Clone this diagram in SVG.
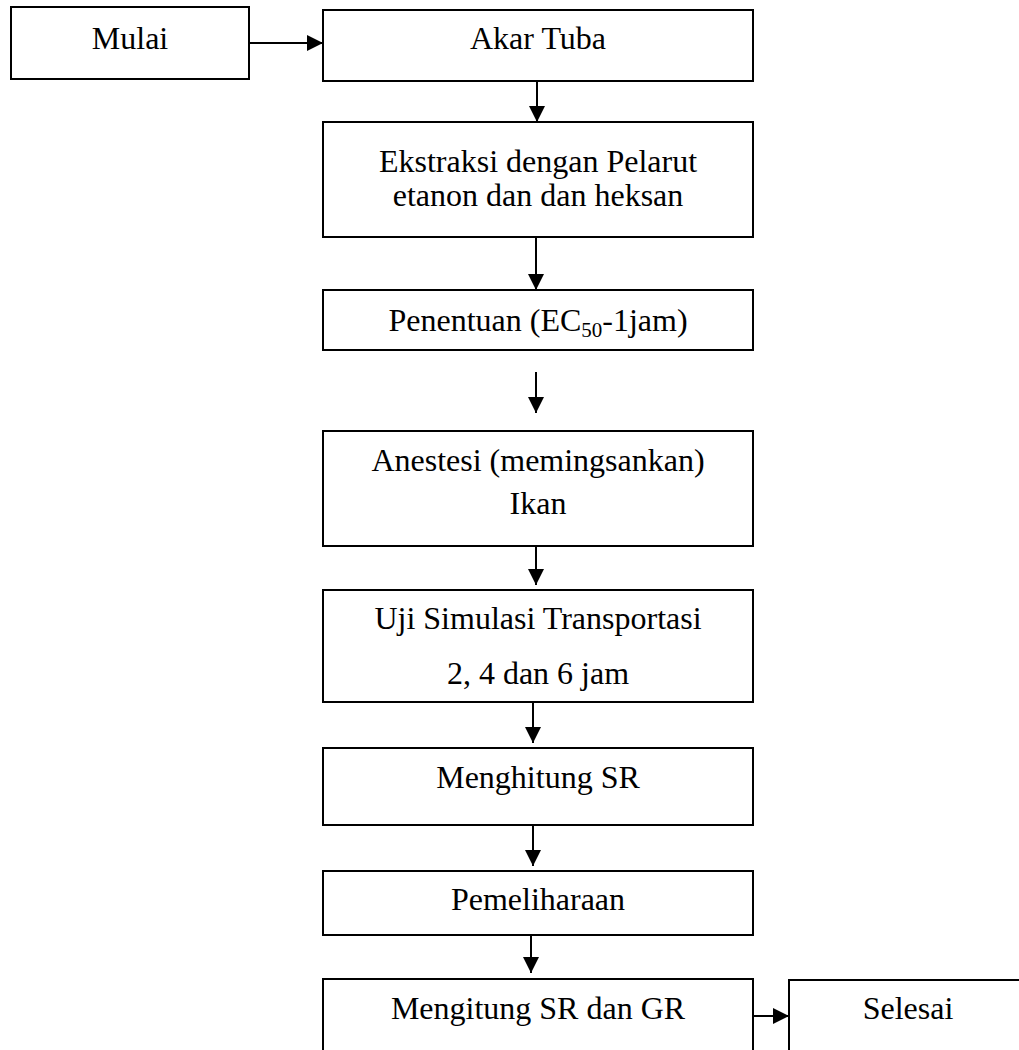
<svg xmlns="http://www.w3.org/2000/svg" width="1019" height="1050" viewBox="0 0 1019 1050">
<style>
.box{fill:#fff;stroke:#000;stroke-width:2}
.t{font-family:"Liberation Serif","Times New Roman",serif;font-size:32px;fill:#000;text-anchor:middle}
.c{stroke:#000;stroke-width:2;fill:none}
</style>
<defs>
<marker id="ah" markerUnits="userSpaceOnUse" markerWidth="16" markerHeight="16" viewBox="0 0 16 16" refX="16" refY="8" orient="auto">
<path d="M0,0 L16,8 L0,16 Z" fill="#000"/>
</marker>
</defs>
<rect width="1019" height="1050" fill="#fff"/>
<g id="connectors">
<line class="c" x1="249" y1="43" x2="323" y2="43" marker-end="url(#ah)"/>
<line class="c" x1="537" y1="81" x2="537" y2="122" marker-end="url(#ah)"/>
<line class="c" x1="536" y1="237" x2="536" y2="290" marker-end="url(#ah)"/>
<line class="c" x1="536" y1="372" x2="536" y2="413" marker-end="url(#ah)"/>
<line class="c" x1="536" y1="543" x2="536" y2="585" marker-end="url(#ah)"/>
<line class="c" x1="533" y1="699" x2="533" y2="743" marker-end="url(#ah)"/>
<line class="c" x1="533" y1="821" x2="533" y2="866" marker-end="url(#ah)"/>
<line class="c" x1="531" y1="931" x2="531" y2="973" marker-end="url(#ah)"/>
<line class="c" x1="752" y1="1016" x2="789" y2="1016" marker-end="url(#ah)"/>
</g>
<g id="mulai"><rect class="box" x="11" y="7" width="238" height="72"/><text class="t" x="130" y="49">Mulai</text></g>
<g id="akar"><rect class="box" x="323" y="10" width="430" height="71"/><text class="t" x="538" y="49">Akar Tuba</text></g>
<g id="ekstraksi"><rect class="box" x="323" y="122" width="430" height="115"/><text class="t" x="538" y="172">Ekstraksi dengan Pelarut</text><text class="t" x="538" y="206">etanon dan dan heksan</text></g>
<g id="penentuan"><rect class="box" x="323" y="290" width="430" height="60"/><text class="t" x="538" y="331">Penentuan (EC<tspan font-size="21" dy="6">50</tspan><tspan dy="-6">-1jam)</tspan></text></g>
<g id="anestesi"><rect class="box" x="323" y="431" width="430" height="115"/><text class="t" x="538" y="471">Anestesi (memingsankan)</text><text class="t" x="538" y="514">Ikan</text></g>
<g id="uji"><rect class="box" x="323" y="590" width="430" height="112"/><text class="t" x="538" y="629">Uji Simulasi Transportasi</text><text class="t" x="538" y="684">2, 4 dan 6 jam</text></g>
<g id="menghitung"><rect class="box" x="323" y="748" width="430" height="77"/><text class="t" x="538" y="788">Menghitung SR</text></g>
<g id="pemeliharaan"><rect class="box" x="323" y="871" width="430" height="64"/><text class="t" x="538" y="910">Pemeliharaan</text></g>
<g id="mengitung"><rect class="box" x="323" y="979" width="430" height="100"/><text class="t" x="538" y="1019">Mengitung SR dan GR</text></g>
<g id="selesai"><rect class="box" x="789" y="980" width="260" height="100"/><text class="t" x="908" y="1019">Selesai</text></g>
</svg>
